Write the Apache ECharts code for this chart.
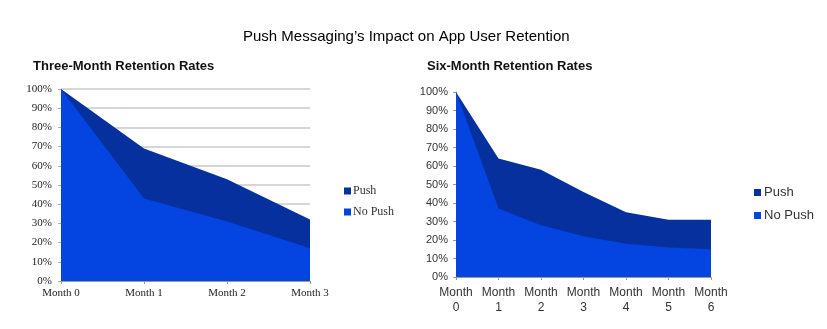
<!DOCTYPE html>
<html>
<head>
<meta charset="utf-8">
<script src="https://cdn.jsdelivr.net/npm/echarts@6/dist/echarts.min.js"></script>
<style>html,body{margin:0;padding:0;background:#fff;}#c{width:827px;height:329px;}</style>
</head>
<body>
<div id="c"></div>
<script>
const mainTitle = "Push Messaging\u2019s Impact on App User Retention";
const leftTitle = "Three-Month Retention Rates";
const rightTitle = "Six-Month Retention Rates";
const seriesNames = ["Push", "No Push"];
const threeMonthCats = ["Month 0", "Month 1", "Month 2", "Month 3"];
const threePush = [100, 69, 53, 32];
const threeNoPush = [100, 43, 31, 17];
const sixMonthCats = ["Month\n0", "Month\n1", "Month\n2", "Month\n3", "Month\n4", "Month\n5", "Month\n6"];
const sixPush = [100, 64, 58, 46, 35, 31, 31];
const sixNoPush = [100, 37, 28, 22, 18, 16, 15];

const darkBlue = "#07309f";
const brightBlue = "#0445e2";
const serif = "Liberation Serif";
const sans = "Liberation Sans";

function area(name, data, color, idx) {
  return {
    type: "line", name: name, data: data, xAxisIndex: idx, yAxisIndex: idx,
    symbol: "none", lineStyle: { width: 0 }, areaStyle: { color: color, opacity: 1 },
    itemStyle: { color: color }, silent: true, animation: false
  };
}

const chart = echarts.init(document.getElementById("c"), null, { renderer: "canvas" });
chart.setOption({
  animation: false,
  backgroundColor: "#fff",
  title: [
    { text: mainTitle, left: 238, top: 24, textStyle: { fontFamily: sans, fontSize: 15, fontWeight: "normal", color: "#000" } },
    { text: leftTitle, left: 28, top: 55, textStyle: { fontFamily: sans, fontSize: 13, fontWeight: "bold", color: "#111" } },
    { text: rightTitle, left: 422, top: 55, textStyle: { fontFamily: sans, fontSize: 13, fontWeight: "bold", color: "#111" } }
  ],
  legend: [
    { data: seriesNames, orient: "vertical", left: 339, top: 180, itemWidth: 7, itemHeight: 7, itemGap: 9, icon: "rect",
      textStyle: { fontFamily: serif, fontSize: 12, color: "#333", padding: [0, 0, 0, -3] }, selectedMode: false },
    { data: seriesNames, orient: "vertical", left: 749, top: 181, itemWidth: 7, itemHeight: 7, itemGap: 10, icon: "rect",
      textStyle: { fontFamily: sans, fontSize: 13, color: "#333", padding: [0, 0, 0, -2] }, selectedMode: false }
  ],
  grid: [
    { left: 61, right: 517, top: 89, bottom: 48 },
    { left: 456, right: 116, top: 92, bottom: 52 }
  ],
  xAxis: [
    { type: "category", gridIndex: 0, data: threeMonthCats, boundaryGap: false,
      axisLine: { lineStyle: { color: "#999" } }, axisTick: { length: 3, lineStyle: { color: "#999" } },
      axisLabel: { fontFamily: serif, fontSize: 11, color: "#222", margin: 7, interval: 0 } },
    { type: "category", gridIndex: 1, data: sixMonthCats, boundaryGap: false,
      axisLine: { lineStyle: { color: "#999" } }, axisTick: { length: 3, interval: 0, lineStyle: { color: "#999" } },
      axisLabel: { fontFamily: sans, fontSize: 12, color: "#333", margin: 8, lineHeight: 15, interval: 0 } }
  ],
  yAxis: [
    { type: "value", gridIndex: 0, min: 0, max: 100, interval: 10,
      axisLine: { show: false }, axisTick: { show: true, length: 3, lineStyle: { color: "#aaa" } },
      splitLine: { lineStyle: { color: "#c8c8c8", width: 1.5 } },
      axisLabel: { formatter: "{value}%", fontFamily: serif, fontSize: 11, color: "#222", margin: 9 } },
    { type: "value", gridIndex: 1, min: 0, max: 100, interval: 10,
      axisLine: { show: true, lineStyle: { color: "#999" } }, axisTick: { show: true, length: 3, lineStyle: { color: "#999" } },
      splitLine: { show: false },
      axisLabel: { formatter: "{value}%", fontFamily: sans, fontSize: 11, color: "#333", margin: 8 } }
  ],
  series: [
    area("Push", threePush, darkBlue, 0),
    area("No Push", threeNoPush, brightBlue, 0),
    area("Push", sixPush, darkBlue, 1),
    area("No Push", sixNoPush, brightBlue, 1)
  ]
});
</script>
</body>
</html>
